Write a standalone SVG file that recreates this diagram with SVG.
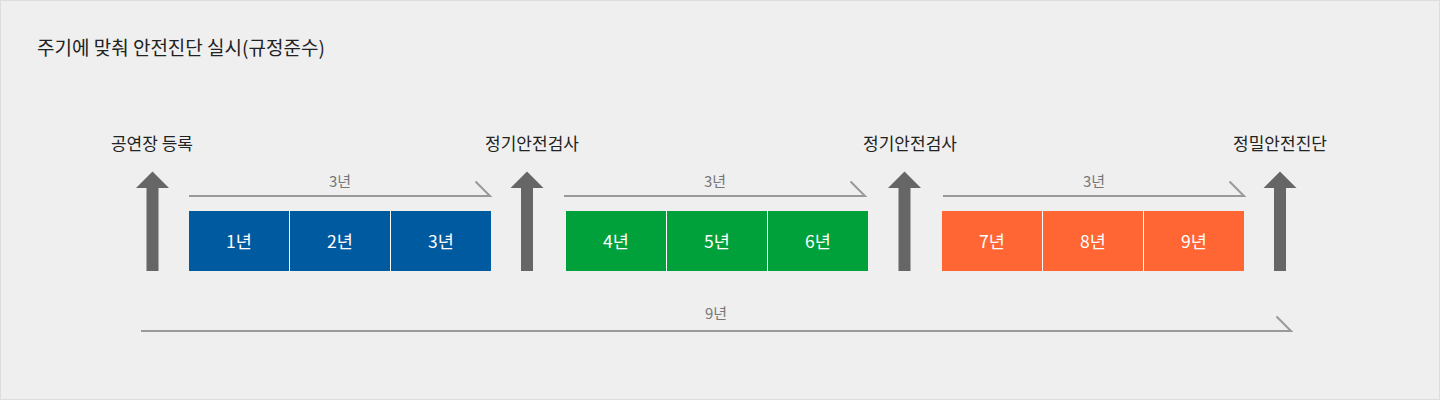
<svg xmlns="http://www.w3.org/2000/svg" width="1440" height="400" viewBox="0 0 1440 400">
<defs>
<style>
.t{font-family:"Noto Sans CJK KR","Noto Sans",sans-serif;}
.lbl{font-size:17px;fill:#222;text-anchor:middle;}
.dur{font-size:15px;fill:#777;text-anchor:middle;}
.yr{font-size:17.5px;fill:#fff;text-anchor:middle;}
.arr{fill:#666;}
.ln{stroke:#999;stroke-width:2;fill:none;}
.div{stroke:#fff;stroke-width:1;}
</style>
<path id="up" class="arr" d="M-16.5,188 L0,171.5 L16.5,188 L6,188 L6,271 L-6,271 L-6,188 Z"/>
</defs>
<rect x="0.5" y="0.5" width="1439" height="399" fill="#efefef" stroke="#dddddd"/>
<text class="t" x="37" y="54.5" font-size="19" fill="#222">주기에 맞춰 안전진단 실시(규정준수)</text>

<g id="node-register">
<use href="#up" x="152.5" y="0"/>
<text class="t lbl" x="152" y="150">공연장 등록</text>
</g>
<g id="node-inspect1">
<use href="#up" x="527" y="0"/>
<text class="t lbl" x="532" y="150">정기안전검사</text>
</g>
<g id="node-inspect2">
<use href="#up" x="904.5" y="0"/>
<text class="t lbl" x="910" y="150">정기안전검사</text>
</g>
<g id="node-diagnosis">
<use href="#up" x="1280" y="0"/>
<text class="t lbl" x="1280" y="150">정밀안전진단</text>
</g>

<g id="node-years1-3">
<rect x="189" y="211" width="302" height="60" fill="#005aa0"/>
<line class="div" x1="289.5" y1="211" x2="289.5" y2="271"/>
<line class="div" x1="390.5" y1="211" x2="390.5" y2="271"/>
<text class="t yr" x="239" y="247.5">1년</text>
<text class="t yr" x="340" y="247.5">2년</text>
<text class="t yr" x="441" y="247.5">3년</text>
</g>
<g id="node-years4-6">
<rect x="566" y="211" width="302" height="60" fill="#00a03b"/>
<line class="div" x1="666.5" y1="211" x2="666.5" y2="271"/>
<line class="div" x1="767.5" y1="211" x2="767.5" y2="271"/>
<text class="t yr" x="616" y="247.5">4년</text>
<text class="t yr" x="717" y="247.5">5년</text>
<text class="t yr" x="818" y="247.5">6년</text>
</g>
<g id="node-years7-9">
<rect x="942" y="211" width="302" height="60" fill="#ff6633"/>
<line class="div" x1="1042.5" y1="211" x2="1042.5" y2="271"/>
<line class="div" x1="1143.5" y1="211" x2="1143.5" y2="271"/>
<text class="t yr" x="992" y="247.5">7년</text>
<text class="t yr" x="1093" y="247.5">8년</text>
<text class="t yr" x="1194" y="247.5">9년</text>
</g>

<g id="connectors">
<path class="ln" d="M189,196 H490 L475.5,181.5"/>
<text class="t dur" x="340" y="186.5">3년</text>
<path class="ln" d="M564,196 H865 L850.5,181.5"/>
<text class="t dur" x="715" y="186.5">3년</text>
<path class="ln" d="M943,196 H1244 L1229.5,181.5"/>
<text class="t dur" x="1094" y="186.5">3년</text>
<path class="ln" d="M141,331 H1291 L1276.5,316.5"/>
<text class="t dur" x="716" y="318.5">9년</text>
</g>
</svg>
